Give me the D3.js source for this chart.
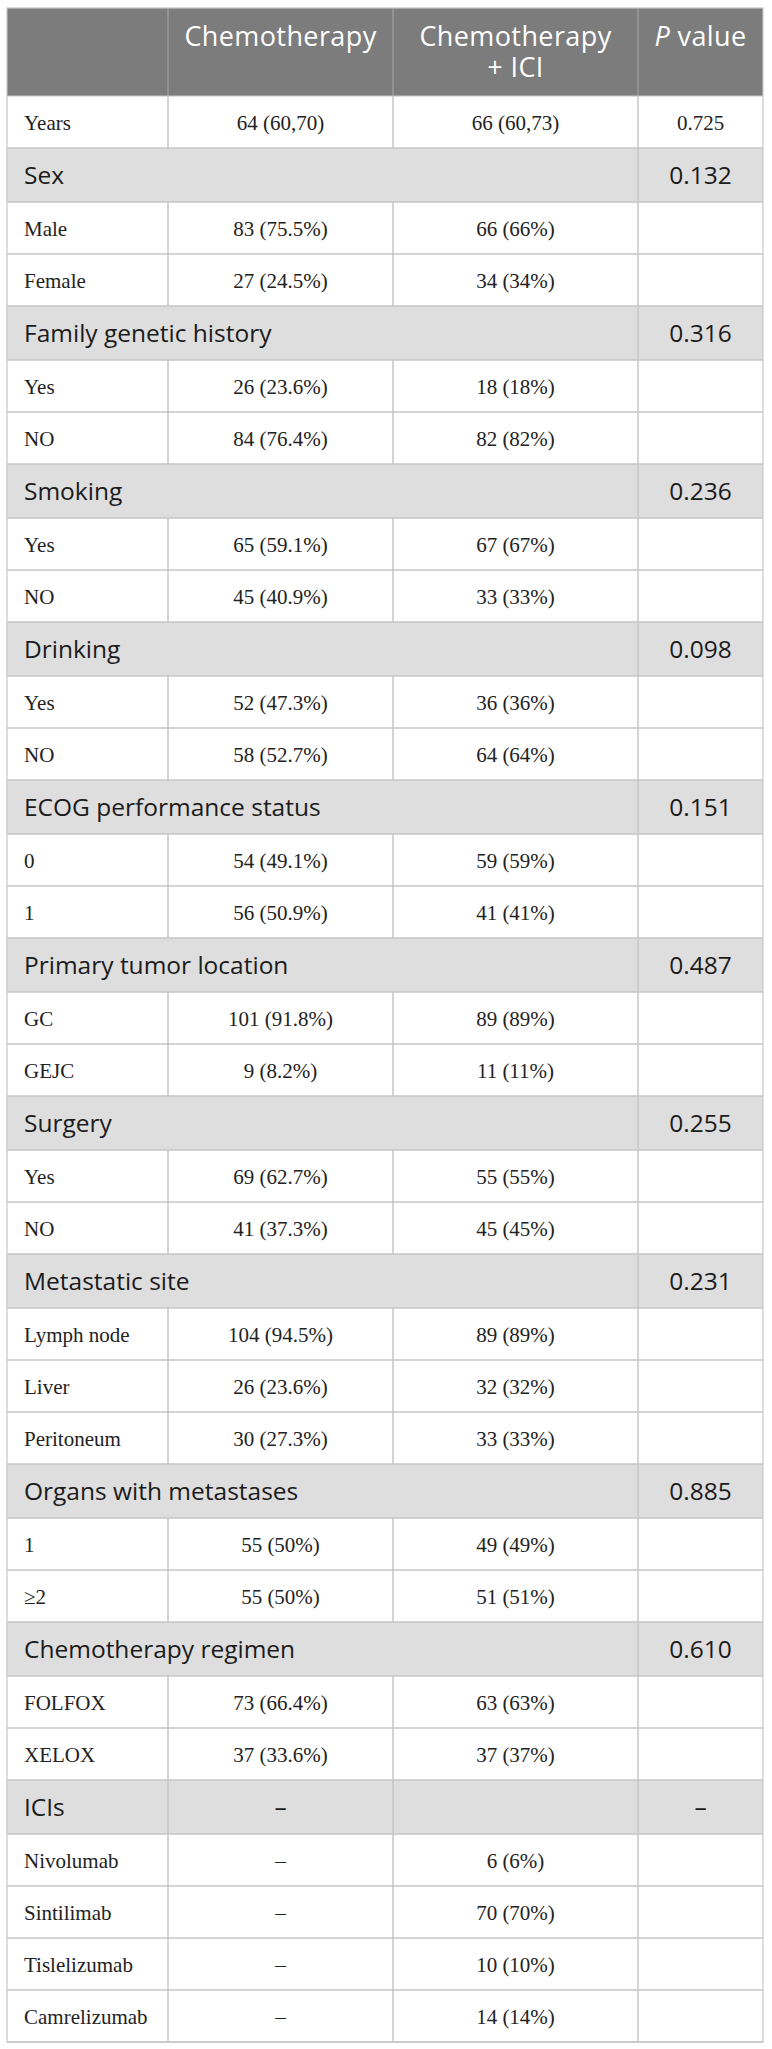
<!DOCTYPE html>
<html>
<head>
<meta charset="utf-8">
<script src="https://cdn.jsdelivr.net/npm/d3@7/dist/d3.min.js"></script>
<style>
  html, body { margin: 0; padding: 0; background: #fff; }
  svg { display: block; }
</style>
</head>
<body>
<svg id="chart" width="772" height="2049"></svg>
<script>
// ---------- data ----------
const headerLabels = [[""], ["Chemotherapy"], ["Chemotherapy", "+ ICI"], ["P value"]];
const rowLabels = ["Years","Sex","Male","Female","Family genetic history","Yes","NO","Smoking","Yes","NO",
  "Drinking","Yes","NO","ECOG performance status","0","1","Primary tumor location","GC","GEJC","Surgery",
  "Yes","NO","Metastatic site","Lymph node","Liver","Peritoneum","Organs with metastases","1","≥2",
  "Chemotherapy regimen","FOLFOX","XELOX","ICIs","Nivolumab","Sintilimab","Tislelizumab","Camrelizumab"];
const rowKinds = ["row","section","row","row","section","row","row","section","row","row",
  "section","row","row","section","row","row","section","row","row","section",
  "row","row","section","row","row","row","section","row","row",
  "section","row","row","split","row","row","row","row"];
const chemoValues = ["64 (60,70)","","83 (75.5%)","27 (24.5%)","","26 (23.6%)","84 (76.4%)","","65 (59.1%)","45 (40.9%)",
  "","52 (47.3%)","58 (52.7%)","","54 (49.1%)","56 (50.9%)","","101 (91.8%)","9 (8.2%)","",
  "69 (62.7%)","41 (37.3%)","","104 (94.5%)","26 (23.6%)","30 (27.3%)","","55 (50%)","55 (50%)",
  "","73 (66.4%)","37 (33.6%)","–","–","–","–","–"];
const iciValues = ["66 (60,73)","","66 (66%)","34 (34%)","","18 (18%)","82 (82%)","","67 (67%)","33 (33%)",
  "","36 (36%)","64 (64%)","","59 (59%)","41 (41%)","","89 (89%)","11 (11%)","",
  "55 (55%)","45 (45%)","","89 (89%)","32 (32%)","33 (33%)","","49 (49%)","51 (51%)",
  "","63 (63%)","37 (37%)","","6 (6%)","70 (70%)","10 (10%)","14 (14%)"];
const pValues = ["0.725","0.132","","","0.316","","","0.236","","",
  "0.098","","","0.151","","","0.487","","","0.255",
  "","","0.231","","","","0.885","","",
  "0.610","","","–","","","",""];

// ---------- layout ----------
const tableLeft = 7, tableRight = 763, tableTop = 8, headerBottom = 96;
const colUnits = [161, 225, 245, 125];
const rowUnits = rowKinds.map(k => k === "row" ? 52 : 54);

const colEdges = [0, ...d3.cumsum(colUnits)];
const rowEdges = [0, ...d3.cumsum(rowUnits)];
const x = d3.scaleLinear().domain([0, d3.sum(colUnits)]).range([tableLeft, tableRight]);
const y = d3.scaleLinear().domain([0, d3.sum(rowUnits)]).range([headerBottom, 2042]);

const svg = d3.select("#chart");
const serif = "'Liberation Serif', 'Times New Roman', serif";
const sans = "'Open Sans', 'Noto Sans', sans-serif";

const rows = rowLabels.map((lab, i) => ({
  i, lab, kind: rowKinds[i],
  vals: [lab, chemoValues[i], iciValues[i], pValues[i]],
  y0: y(rowEdges[i]), y1: y(rowEdges[i + 1])
}));

// header background
svg.append("rect").attr("x", tableLeft).attr("y", tableTop)
  .attr("width", tableRight - tableLeft).attr("height", headerBottom - tableTop)
  .attr("fill", "#7c7c7c");

// row backgrounds
svg.append("g").selectAll("rect").data(rows).join("rect")
  .attr("x", tableLeft).attr("y", d => d.y0)
  .attr("width", tableRight - tableLeft).attr("height", d => d.y1 - d.y0)
  .attr("fill", d => d.kind === "row" ? "#ffffff" : "#dedede");

// header vertical separators
svg.append("g").selectAll("line").data(colEdges.slice(1, -1)).join("line")
  .attr("x1", d => x(d)).attr("x2", d => x(d))
  .attr("y1", tableTop).attr("y2", headerBottom)
  .attr("stroke", "#9a9a9a").attr("stroke-width", 1.5);

// horizontal lines
svg.append("g").selectAll("line").data(rows).join("line")
  .attr("x1", tableLeft).attr("x2", tableRight)
  .attr("y1", d => d.y1).attr("y2", d => d.y1)
  .attr("stroke", "#c6c6c6").attr("stroke-width", 1.5);
svg.append("line").attr("x1", tableLeft).attr("x2", tableRight)
  .attr("y1", headerBottom).attr("y2", headerBottom)
  .attr("stroke", "#c6c6c6").attr("stroke-width", 1.2);

// vertical lines in body
const vsegs = [];
rows.forEach(r => {
  colEdges.slice(1, -1).forEach((c, ci) => {
    if (r.kind === "section" && ci < 2) return;
    vsegs.push({ x: x(c), y0: r.y0, y1: r.y1 });
  });
});
svg.append("g").selectAll("line").data(vsegs).join("line")
  .attr("x1", d => d.x).attr("x2", d => d.x)
  .attr("y1", d => d.y0).attr("y2", d => d.y1)
  .attr("stroke", "#c6c6c6").attr("stroke-width", 1.5);

// outer border
svg.append("rect").attr("x", tableLeft).attr("y", tableTop)
  .attr("width", tableRight - tableLeft).attr("height", 2042 - tableTop)
  .attr("fill", "none").attr("stroke", "#c6c6c6").attr("stroke-width", 1.2);

// header text (one text element per column, lines as tspans)
const hg = svg.append("g").attr("fill", "#ffffff")
  .style("font-family", sans).style("font-size", "27px").style("letter-spacing", "0.4px");
headerLabels.forEach((lines, ci) => {
  if (!lines[0]) return;
  const cx = (x(colEdges[ci]) + x(colEdges[ci + 1])) / 2;
  const t = hg.append("text").attr("x", cx).attr("y", 46).attr("text-anchor", "middle");
  lines.forEach((ln, li) => {
    if (ln === "P value") {
      t.append("tspan").style("font-style", "italic").text("P");
      t.append("tspan").text(" value");
    } else {
      t.append("tspan").attr("x", cx).attr("dy", li === 0 ? 0 : 31).text(ln);
    }
  });
});

// body text
const cells = [];
rows.forEach(r => {
  const cyMid = (r.y0 + r.y1) / 2;
  r.vals.forEach((v, ci) => {
    if (!v) return;
    const isSans = r.kind !== "row";
    cells.push({
      text: v,
      x: ci === 0 ? x(colEdges[0]) + 17 : (x(colEdges[ci]) + x(colEdges[ci + 1])) / 2,
      anchor: ci === 0 ? "start" : "middle",
      y: cyMid + (isSans ? 9 : 7.5),
      font: isSans ? sans : serif,
      size: isSans ? "24.5px" : "21px",
      fill: isSans ? "#1b1b1b" : "#222222"
    });
  });
});
svg.append("g").selectAll("text").data(cells).join("text")
  .attr("x", d => d.x).attr("y", d => d.y)
  .attr("text-anchor", d => d.anchor)
  .style("font-family", d => d.font).style("font-size", d => d.size)
  .attr("fill", d => d.fill)
  .text(d => d.text);
</script>
</body>
</html>
